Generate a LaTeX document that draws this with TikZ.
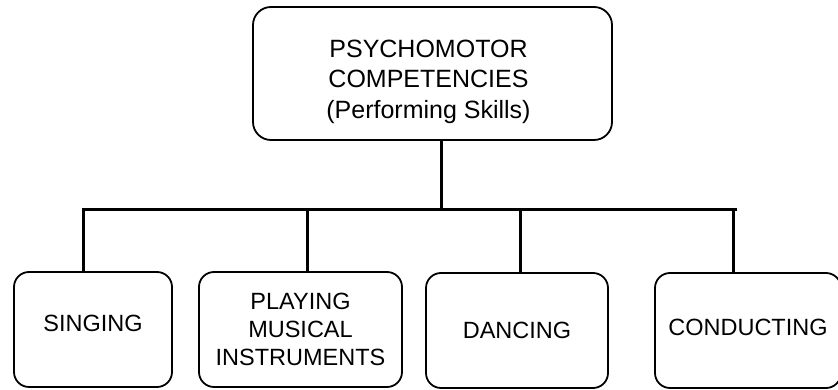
\documentclass[tikz,border=0pt]{standalone}
\usepackage{fontspec}
\setmainfont{Liberation Sans}
\usepackage{tikz}
\usetikzlibrary{positioning}

\begin{document}
\begin{tikzpicture}[x=1pt, y=1pt,
    topbox/.style={draw, line width=1.8pt, rounded corners=18pt, align=center,
        inner sep=0pt, font=\fontsize{25}{30.5}\selectfont},
    skillbox/.style={draw, line width=1.8pt, rounded corners=15pt, align=center,
        inner sep=0pt, minimum height=115pt, font=\fontsize{23.5}{28}\selectfont},
    wire/.style={line width=3pt}]
\useasboundingbox (0,0) rectangle (838,390);

% Main competency
\node[topbox, minimum width=359pt, minimum height=133pt] (psycho) at (432.5,316.5)
    {\hspace*{-8pt}\raisebox{-8pt}[\height][\depth]{\parbox{320pt}{\centering
     PSYCHOMOTOR\\COMPETENCIES\\(Performing Skills)}}};

% Skills
\node[skillbox, minimum width=158pt] (singing) at (93,60.5)
    {\raisebox{6pt}[\height][\depth]{SINGING}};
\node[skillbox, minimum width=203pt] (playing) at (300.5,60.5)
    {PLAYING\\MUSICAL\\INSTRUMENTS};
\node[skillbox, minimum width=182pt] (dancing) at (517,59.5) {DANCING};
\node[skillbox, minimum width=186pt] (conducting) at (748,59.5)
    {\raisebox{3pt}[\height][\depth]{CONDUCTING}};

% Bus coordinates
\coordinate (trunk) at (441,180);
\coordinate (busl) at (81.5,180);
\coordinate (busr) at (737,180);
\coordinate (d1) at (83,180);
\coordinate (d2) at (307,180);
\coordinate (d3) at (520,180);
\coordinate (d4) at (733,180);

% Connectors
\draw[wire] (trunk |- psycho.south) -- (trunk);
\draw[wire] (busl) -- (busr);
\draw[wire] (d1) -- (d1 |- singing.north);
\draw[wire] (d2) -- (d2 |- playing.north);
\draw[wire] (d3) -- (d3 |- dancing.north);
\draw[wire] (d4) -- (d4 |- conducting.north);
\end{tikzpicture}
\end{document}
